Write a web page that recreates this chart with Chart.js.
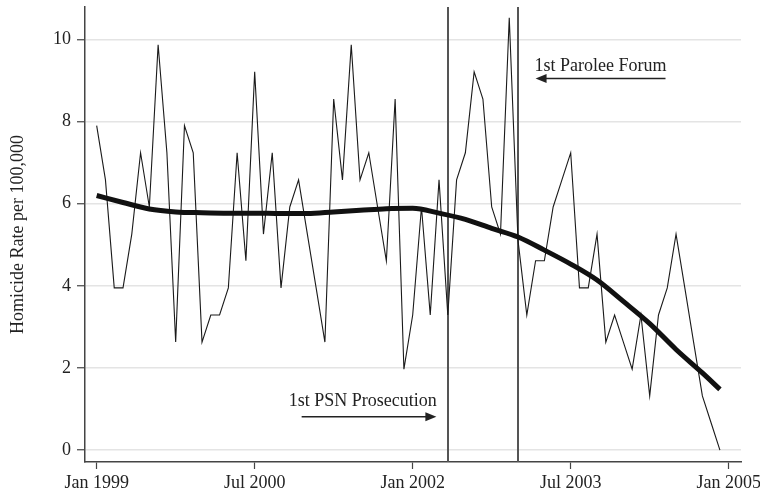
<!DOCTYPE html>
<html>
<head>
<meta charset="utf-8">
<script src="https://cdn.jsdelivr.net/npm/chart.js@4/dist/chart.umd.min.js"></script>
<style>
	html, body { margin: 0; padding: 0; background: #fff; }
	#wrap { width: 760px; height: 495px; }
</style>
</head>
<body>
<div id="wrap"><canvas id="chart"></canvas></div>
<script>
// monthly homicide rate, Jan 1999 .. Dec 2004
const RATE = [
	7.9, 6.58, 3.95, 3.95, 5.26, 7.24, 5.92, 9.87, 7.24, 2.63, 7.9, 7.24,
	2.63, 3.29, 3.29, 3.95, 7.24, 4.61, 9.21, 5.26, 7.24, 3.95, 5.92, 6.58,
	5.26, 3.95, 2.63, 8.55, 6.58, 9.87, 6.58, 7.24, 5.92, 4.61, 8.55, 1.97,
	3.29, 5.92, 3.29, 6.58, 3.29, 6.58, 7.24, 9.21, 8.55, 5.92, 5.26, 10.53,
	5.1, 3.29, 4.61, 4.61, 5.92, 6.58, 7.24, 3.95, 3.95, 5.26, 2.63, 3.29,
	2.63, 1.97, 3.29, 1.32, 3.29, 3.95, 5.26, 3.95, 2.63, 1.32, 0.66, 0,
]
// smoothed trend, read every third month
const SMOOTH_MONTH = [0, 3, 6, 9, 12, 15, 18, 21, 24, 27, 30, 33, 36, 39, 42, 45, 48, 51, 54, 57, 60, 63, 66, 69, 71]
const SMOOTH_RATE = [6.2, 6.03, 5.87, 5.8, 5.78, 5.77, 5.77, 5.76, 5.76, 5.8, 5.84, 5.88, 5.89, 5.77, 5.62, 5.4, 5.19, 4.87, 4.53, 4.14, 3.62, 3.08, 2.45, 1.88, 1.48]

const TICK_MONTH = [0, 18, 36, 54, 72]
const TICK_LABELS = ['Jan 1999', 'Jul 2000', 'Jan 2002', 'Jul 2003', 'Jan 2005']
const Y_TICKS = [0, 2, 4, 6, 8, 10]

// May 2002 and Jan 2003
const EVENT_MONTH = [40, 48]
const NOTES = [
	{ text: '1st PSN Prosecution', x: 30.3, y: 1.18, from: 23.35, to: 38.7, at: 0.81 },
	{ text: '1st Parolee Forum', x: 57.4, y: 9.34, from: 64.8, to: 50.0, at: 9.05 },
]

const FONT = 'Liberation Serif, Times New Roman, serif'
Chart.defaults.font.family = FONT
Chart.defaults.font.size = 18
Chart.defaults.color = '#222'

function arrow (ctx, x0, x1, y) {
	const dir = Math.sign(x1 - x0)
	ctx.beginPath()
	ctx.moveTo(x0, y)
	ctx.lineTo(x1 - dir * 9, y)
	ctx.stroke()
	ctx.beginPath()
	ctx.moveTo(x1, y)
	ctx.lineTo(x1 - dir * 11, y - 4.5)
	ctx.lineTo(x1 - dir * 11, y + 4.5)
	ctx.closePath()
	ctx.fill()
}

const events_plugin = {
	id: 'events',
	beforeDatasetsDraw (chart) {
		const { ctx, chartArea, scales } = chart
		ctx.save()
		ctx.strokeStyle = '#555'
		ctx.lineWidth = 2
		for (const m of EVENT_MONTH) {
			const px = Math.round(scales.x.getPixelForValue(m))
			ctx.beginPath()
			ctx.moveTo(px, chartArea.top)
			ctx.lineTo(px, chartArea.bottom)
			ctx.stroke()
		}
		ctx.restore()
	},
	afterDatasetsDraw (chart) {
		const { ctx, scales } = chart
		ctx.save()
		ctx.fillStyle = '#222'
		ctx.strokeStyle = '#222'
		ctx.lineWidth = 1.5
		ctx.font = '18px ' + FONT
		ctx.textAlign = 'center'
		ctx.textBaseline = 'middle'
		for (const n of NOTES) {
			ctx.fillText(n.text, scales.x.getPixelForValue(n.x), scales.y.getPixelForValue(n.y))
			arrow(ctx, scales.x.getPixelForValue(n.from), scales.x.getPixelForValue(n.to), scales.y.getPixelForValue(n.at))
		}
		ctx.restore()
	},
}

new Chart(document.getElementById('chart'), {
	type: 'line',
	data: {
		datasets: [
			{
				label: 'Smoothed',
				data: SMOOTH_MONTH.map((m, i) => ({ x: m, y: SMOOTH_RATE[i] })),
				borderColor: '#111',
				borderWidth: 5,
				pointRadius: 0,
				cubicInterpolationMode: 'monotone',
				borderCapStyle: 'butt',
			},
			{
				label: 'Rate',
				data: RATE.map((v, i) => ({ x: i, y: v })),
				borderColor: '#1a1a1a',
				borderWidth: 1.1,
				pointRadius: 0,
				tension: 0,
			},
		],
	},
	plugins: [events_plugin],
	options: {
		responsive: true,
		maintainAspectRatio: false,
		animation: false,
		layout: { padding: { top: 7, right: 19, left: 0, bottom: 0 } },
		plugins: {
			legend: { display: false },
			tooltip: { enabled: false },
		},
		scales: {
			x: {
				type: 'linear',
				min: -1.33,
				max: 73.4,
				afterBuildTicks (scale) { scale.ticks = TICK_MONTH.map(v => ({ value: v })) },
				afterFit (scale) {
					scale.height = 33
					scale.paddingLeft = 0
					scale.paddingRight = 0
				},
				ticks: {
					autoSkip: false,
					maxRotation: 0,
					padding: 3,
					callback: v => TICK_LABELS[TICK_MONTH.indexOf(v)],
				},
				grid: {
					drawOnChartArea: false,
					drawTicks: true,
					tickLength: 7,
					tickColor: '#444',
					tickWidth: 1.2,
				},
				border: { color: '#444', width: 1.5 },
			},
			y: {
				min: -0.29,
				max: 10.79,
				afterBuildTicks (scale) { scale.ticks = Y_TICKS.map(v => ({ value: v })) },
				afterFit (scale) {
					scale.width = 85
					scale.paddingTop = 0
					scale.paddingBottom = 0
				},
				ticks: { padding: 6 },
				grid: {
					color: '#e4e4e4',
					lineWidth: 1.5,
					tickLength: 8,
					tickColor: '#444',
					tickWidth: 1.2,
				},
				border: { color: '#444', width: 1.5 },
				title: {
					display: true,
					text: 'Homicide Rate per 100,000',
					padding: { top: 7, bottom: 0 },
				},
			},
		},
	},
})
</script>
</body>
</html>
